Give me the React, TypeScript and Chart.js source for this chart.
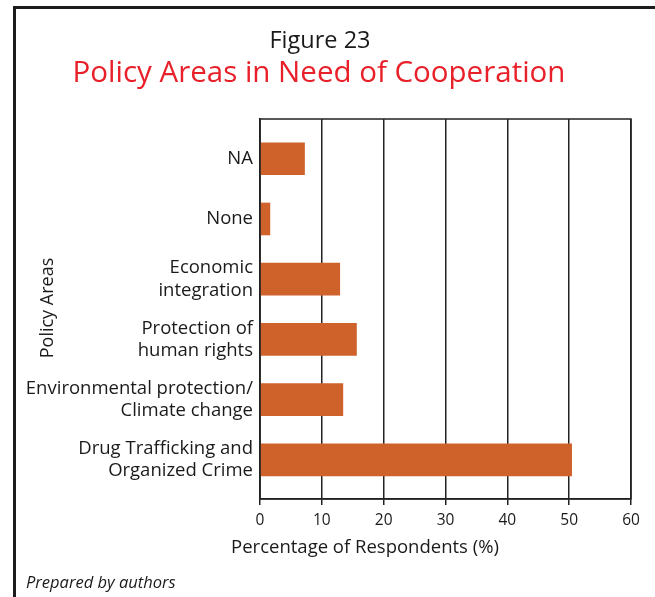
import React, { useEffect, useRef } from "react";
import { Chart, registerables } from "chart.js";

Chart.register(...registerables);

const categories: string[][] = [
  ["NA"],
  ["None"],
  ["Economic", "integration"],
  ["Protection of", "human rights"],
  ["Environmental protection/", "Climate change"],
  ["Drug Trafficking and", "Organized Crime"],
];
const values: number[] = [7.2, 1.6, 12.9, 15.6, 13.4, 50.4];
const xTicks: number[] = [0, 10, 20, 30, 40, 50, 60];

const figureLabel = "Figure 23";
const titleText = "Policy Areas in Need of Cooperation";
const xTitle = "Percentage of Respondents (%)";
const yTitle = "Policy Areas";
const sourceText = "Prepared by authors";

const FONT = "'Open Sans', 'Noto Sans', sans-serif";
const BAR = "#CF612B";

const decorPlugin = {
  id: "decor",
  beforeDraw(chart: any) {
    const ctx = chart.ctx;
    ctx.save();
    ctx.fillStyle = "#ffffff";
    ctx.fillRect(0, 0, chart.width, chart.height);
    ctx.restore();
  },
  afterDraw(chart: any) {
    const ctx = chart.ctx;
    const a = chart.chartArea;
    ctx.save();
    // frame
    ctx.strokeStyle = "#1c1c1c";
    ctx.lineWidth = 3;
    ctx.beginPath();
    ctx.moveTo(14.5, chart.height + 5);
    ctx.lineTo(14.5, 7.5);
    ctx.lineTo(chart.width + 5, 7.5);
    ctx.stroke();
    // plot box
    ctx.strokeStyle = "#222222";
    ctx.lineWidth = 1.5;
    ctx.strokeRect(a.left, a.top, a.right - a.left, a.bottom - a.top);
    // titles
    ctx.textAlign = "center";
    ctx.textBaseline = "middle";
    ctx.fillStyle = "#1a1a1a";
    ctx.font = `23.5px ${FONT}`;
    ctx.fillText(figureLabel, 320, 41);
    ctx.fillStyle = "#E8202A";
    ctx.font = `29.5px ${FONT}`;
    ctx.fillText(titleText, 319, 74);
    // x title
    ctx.fillStyle = "#1a1a1a";
    ctx.font = `18.5px ${FONT}`;
    ctx.fillText(xTitle, 365, 548);
    // y title
    ctx.save();
    ctx.translate(48, 308);
    ctx.rotate(-Math.PI / 2);
    ctx.font = `18px ${FONT}`;
    ctx.fillText(yTitle, 0, 0);
    ctx.restore();
    // source
    ctx.textAlign = "left";
    ctx.font = `italic 16.5px ${FONT}`;
    ctx.fillText(sourceText, 26, 583);
    ctx.restore();
  },
};

export default function App() {
  const ref = useRef<HTMLCanvasElement | null>(null);
  useEffect(() => {
    if (!ref.current) return;
    const chart = new Chart(ref.current, {
      type: "bar",
      data: {
        datasets: [
          {
            data: values.map((v, i) => ({ x: v, y: i })),
            backgroundColor: BAR,
            borderWidth: 0,
            barThickness: 32,
          },
        ],
      },
      options: {
        indexAxis: "y",
        animation: false,
        responsive: false,
        maintainAspectRatio: false,
        layout: { padding: { top: 119, right: 24, left: 0, bottom: 0 } },
        plugins: {
          legend: { display: false },
          tooltip: { enabled: false },
          title: { display: false },
        },
        scales: {
          x: {
            type: "linear",
            min: 0,
            max: 60,
            afterBuildTicks: (scale: any) => {
              scale.ticks = xTicks.map((v) => ({ value: v }));
            },
            grid: {
              color: "#222222",
              lineWidth: 1.5,
              tickLength: 6,
              drawTicks: true,
            },
            border: { display: true, color: "#222222", width: 1.5 },
            ticks: {
              color: "#1a1a1a",
              font: { family: FONT, size: 15.5 },
              padding: 6,
              maxRotation: 0,
            },
            afterFit: (scale: any) => {
              scale.height = 98;
            },
          },
          y: {
            type: "linear",
            reverse: true,
            offset: false,
            min: -0.66,
            max: 5.65,
            afterBuildTicks: (scale: any) => {
              scale.ticks = categories.map((_, i) => ({ value: i }));
            },
            grid: { display: false, drawTicks: false, offset: false },
            border: { display: true, color: "#222222", width: 1.5 },
            ticks: {
              color: "#1a1a1a",
              font: { family: FONT, size: 18.5, lineHeight: 1.2 },
              padding: 7,
              callback: (v: any) => categories[Number(v)] ?? "",
            },
            afterFit: (scale: any) => {
              scale.width = 260;
            },
          },
        },
      },
      plugins: [decorPlugin],
    });
    return () => chart.destroy();
  }, []);
  return (
    <div style={{ position: "absolute", left: 0, top: 0, width: 655, height: 597 }}>
      <canvas ref={ref} width={655} height={597} />
    </div>
  );
}
